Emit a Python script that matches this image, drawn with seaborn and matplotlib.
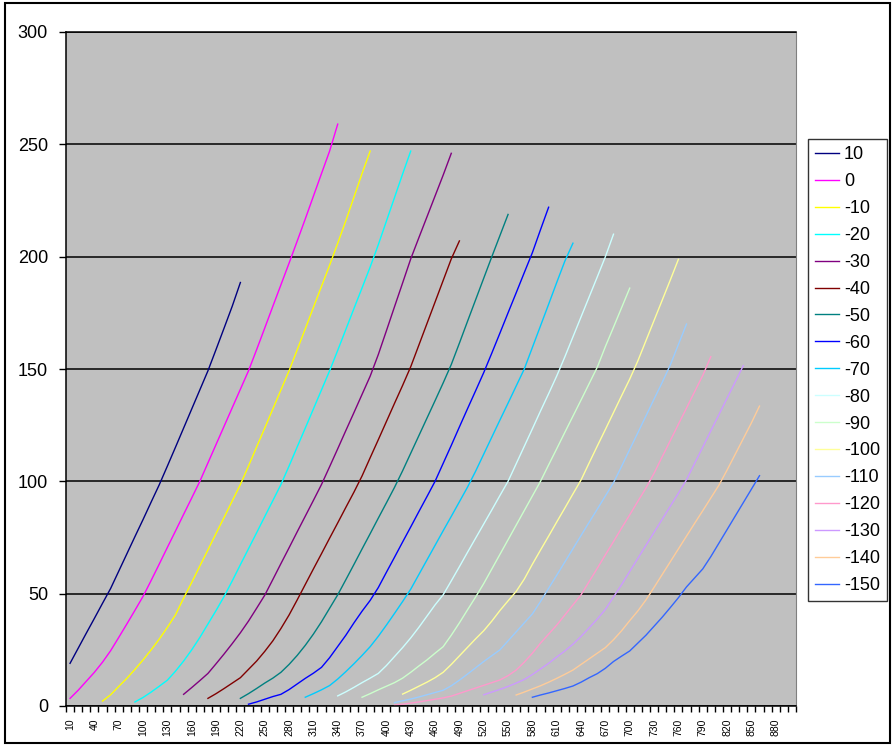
import pandas as pd
import seaborn as sns
import matplotlib.pyplot as plt
from matplotlib.patches import Rectangle

# series names (legend order) and the first category each series starts at
labels = ["10", "0", "-10", "-20", "-30", "-40", "-50", "-60", "-70", "-80",
          "-90", "-100", "-110", "-120", "-130", "-140", "-150"]
starts = [10, 10, 50, 90, 150, 180, 220, 230, 300, 340,
          370, 420, 410, 410, 520, 560, 580]
colors = ["#000080", "#FF00FF", "#FFFF00", "#00FFFF", "#800080", "#800000",
          "#008080", "#0000FF", "#00CCFF", "#CCFFFF", "#CCFFCC", "#FFFF99",
          "#99CCFF", "#FF99CC", "#CC99FF", "#FFCC99", "#3366FF"]

s_10 = [19, 25.7, 32.4, 39, 45.7, 52.3, 60, 67.7, 75.4, 83, 90.8, 98.5, 106.8,
        115.2, 123.7, 132.2, 140.7, 149.2, 158.7, 168.3, 178, 188.5]
s_0 = [3.4, 7, 11, 15, 19.5, 24.6, 30.5, 36.5, 42.6, 48.8, 55.9, 63.2, 70.6,
       77.9, 85.3, 92.6, 100, 108.2, 116.4, 124.6, 132.8, 141, 149.2, 158.6,
       168.2, 177.9, 187.5, 197.1, 206.9, 216.8, 226.9, 237, 247, 259]
s_m10 = [2.2, 5, 8.7, 12.3, 16.3, 20.5, 25, 29.8, 35, 40.6, 48, 55, 62.3, 69.5,
         76.8, 84, 91.3, 98.6, 106.8, 115.3, 123.7, 132.2, 140.7, 149.2, 158.5,
         167.9, 177.4, 186.8, 196.2, 206, 216, 226.5, 237, 247]
s_m20 = [1.8, 3.8, 6.2, 8.8, 11.5, 15.5, 20, 25, 30.5, 36.5, 42.5, 48.8, 55.7,
         62.9, 70, 77.1, 84.3, 91.4, 98.6, 106.8, 115.3, 123.7, 132.2, 140.7,
         149.2, 158.3, 167.6, 176.9, 186.1, 195.4, 205.3, 215.8, 226.3, 236.8, 247]
s_m30 = [5.2, 8.2, 11.3, 14.5, 18.8, 23.2, 27.8, 32.6, 37.8, 43.5, 49.3, 56.3,
         63.4, 70.4, 77.5, 84.5, 91.5, 98.6, 106.5, 114.5, 122.6, 130.6, 138.7,
         146.8, 156.4, 167, 177.7, 188.3, 199, 208.4, 217.7, 227, 236.3, 246]
s_m40 = [3.4, 5.5, 7.8, 10.2, 12.6, 16.3, 20, 24.3, 29, 34.5, 40.5, 47.2, 54.1,
         61, 67.8, 74.7, 81.5, 88.4, 95.2, 102.4, 110.5, 118.5, 126.6, 134.7,
         142.7, 151, 160.6, 170.2, 179.8, 189.4, 199, 207]
s_m50 = [3.4, 5.5, 7.8, 10.2, 12.4, 15, 18.5, 22.5, 27, 32, 37.5, 43.5, 49.5,
         56.2, 63, 69.9, 76.7, 83.6, 90.4, 97.3, 104.7, 112.5, 120.3, 128.1,
         135.9, 143.8, 152, 161.5, 171.2, 180.8, 190.4, 200, 209.4, 218.8]
s_m60 = [0.8, 1.8, 3, 4.2, 5.2, 7.3, 9.8, 12.3, 14.6, 17.2, 21.5, 26.5, 31.5,
         37, 42.2, 47, 52.7, 59.5, 66.2, 73, 79.7, 86.5, 93.2, 100, 108, 116,
         124.2, 132.3, 140.3, 148.4, 157.1, 166, 175, 183.9, 192.9, 201.8, 212, 222]
s_m70 = [3.9, 5.5, 7.2, 9.1, 12, 15.3, 18.8, 22.5, 26.4, 31, 36, 41.2, 46.5, 52,
         58.5, 65, 71.5, 78, 84.4, 90.9, 97.4, 104.5, 112.1, 119.7, 127.3,
         134.8, 142.4, 150, 159.6, 169.2, 178.8, 188.5, 198, 206]
s_m80 = [4.5, 6.3, 8.3, 10.4, 12.4, 14.5, 18, 22, 26, 30.3, 35, 40, 45, 49.5,
         55.7, 62, 68.4, 74.7, 81, 87.3, 93.7, 100, 107.8, 115.6, 123.4, 131.3,
         139, 146.9, 155.4, 164.3, 173.2, 182.1, 191, 200, 210]
s_m90 = [3.9, 5.5, 7.2, 8.8, 10.4, 12.4, 15, 17.8, 20.5, 23.5, 26.4, 31.5, 37,
         42.8, 48.5, 54.5, 61, 67.5, 74, 80.5, 87, 93.5, 100, 107.3, 114.5,
         121.8, 129, 136.2, 143.5, 150.8, 160, 168.6, 177.3, 186]
s_m100 = [5.3, 7, 8.8, 10.6, 12.6, 15, 18.5, 22.3, 26.1, 29.9, 33.5, 37.8, 42.5,
          46.8, 51, 56.5, 63.1, 69.4, 75.6, 81.9, 88.1, 94.4, 100.6, 108.2,
          115.7, 123.1, 130.6, 138.1, 145.5, 153.6, 162.6, 171.6, 180.6, 189.6, 198.8]
s_m110 = [1.5, 2.3, 3.1, 4, 5, 6, 7, 9, 11.5, 14.2, 17, 19.8, 22.4, 25, 29, 33,
          37, 41, 46.5, 52.4, 58.2, 64.1, 70, 75.9, 81.8, 87.6, 93.5, 99.4,
          106.7, 114.2, 121.6, 129.1, 136.6, 144, 151.8, 160.9, 170]
s_m120 = [0.4, 0.8, 1.3, 1.8, 2.4, 3.0, 3.6, 4.4, 5.6, 6.8, 8, 9.2, 10.4, 11.6,
          13.5, 16, 19.5, 23.5, 28, 32, 36, 40.5, 45, 49.5, 55.4, 61.3, 67.3,
          73.2, 79.2, 85.1, 91.1, 97, 103.6, 110.9, 118.1, 125.4, 132.6, 139.9,
          147.1, 155.5]
s_m130 = [5, 6.2, 7.4, 8.7, 10.2, 11.8, 14, 16.5, 19, 21.8, 24.5, 27.5, 31, 34.8,
          38.7, 43, 48.5, 54, 59.9, 65.7, 71.5, 77.3, 83.1, 88.9, 94.7, 100.7,
          108, 115.2, 122.5, 129.7, 137, 144.2, 151.5]
s_m140 = [4.9, 6.2, 7.6, 9, 10.6, 12.3, 14.1, 16, 18.5, 21, 23.5, 26, 29.5, 33.5,
          38, 42.3, 47.2, 52.8, 58.5, 64.2, 69.9, 75.6, 81.3, 86.9, 92.6, 98.3,
          105, 112, 119, 126, 133.5]
s_m150 = [3.9, 4.9, 5.8, 6.8, 7.8, 8.9, 10.6, 12.6, 14.4, 16.8, 19.8, 22.2, 24.5,
          28, 31.5, 35.5, 39.5, 43.8, 48.2, 53, 57, 61, 66.5, 72.5, 78.5, 84.5,
          90.5, 96.5, 102.5]

series = [s_10, s_0, s_m10, s_m20, s_m30, s_m40, s_m50, s_m60, s_m70, s_m80,
          s_m90, s_m100, s_m110, s_m120, s_m130, s_m140, s_m150]

rows = []
for name, start, vals in zip(labels, starts, series):
    for i, v in enumerate(vals):
        rows.append({"x": start + 10 * i, "y": v, "series": name})
df = pd.DataFrame(rows)

plt.rcParams["font.family"] = ["Liberation Sans", "DejaVu Sans"]

fig = plt.figure(figsize=(8.96, 7.49), dpi=100)
ax = fig.add_axes([66 / 896, 1 - 706 / 749, 730 / 896, 674 / 749])
ax.set_facecolor("#C0C0C0")

sns.lineplot(data=df, x="x", y="y", hue="series", hue_order=labels,
             palette=colors, linewidth=1.0, ax=ax, legend=True)

ax.set_xlim(5, 905)
ax.set_ylim(0, 300)
ax.set_yticks(range(0, 301, 50))
ax.yaxis.grid(True, color="black", linewidth=1.1)
ax.set_axisbelow(True)

# category labels every third category, tick marks at category boundaries
ax.set_xticks(list(range(10, 881, 30)))
ax.set_xticklabels([str(v) for v in range(10, 881, 30)], rotation=90, fontsize=7.5)
ax.set_xticks(list(range(5, 906, 10)), minor=True)
ax.tick_params(axis="x", which="major", length=0, pad=9)
ax.tick_params(axis="x", which="minor", length=4, width=1, color="black")
ax.tick_params(axis="y", length=5, width=1, labelsize=13, pad=8)
ax.set_xlabel("")
ax.set_ylabel("")

for side in ["left", "bottom", "top"]:
    ax.spines[side].set_color("black")
    ax.spines[side].set_linewidth(1.1)
ax.spines["right"].set_color("#808080")

handles, labs = ax.get_legend_handles_labels()
leg = ax.legend(handles, labs, loc="upper left",
                bbox_to_anchor=(808 / 896, 1 - 139 / 749),
                bbox_transform=fig.transFigure, frameon=True, fancybox=False,
                edgecolor="black", fontsize=13, handlelength=1.3,
                handletextpad=0.3, labelspacing=0.55, borderaxespad=0,
                borderpad=0.4)
leg.get_frame().set_linewidth(1.0)
for line in leg.get_lines():
    line.set_linewidth(1.0)

fig.patches.append(Rectangle((5 / 896, 6 / 749), 885 / 896, 740 / 749,
                             transform=fig.transFigure, fill=False,
                             edgecolor="black", linewidth=1.5))

plt.savefig("out.png", dpi=100)
